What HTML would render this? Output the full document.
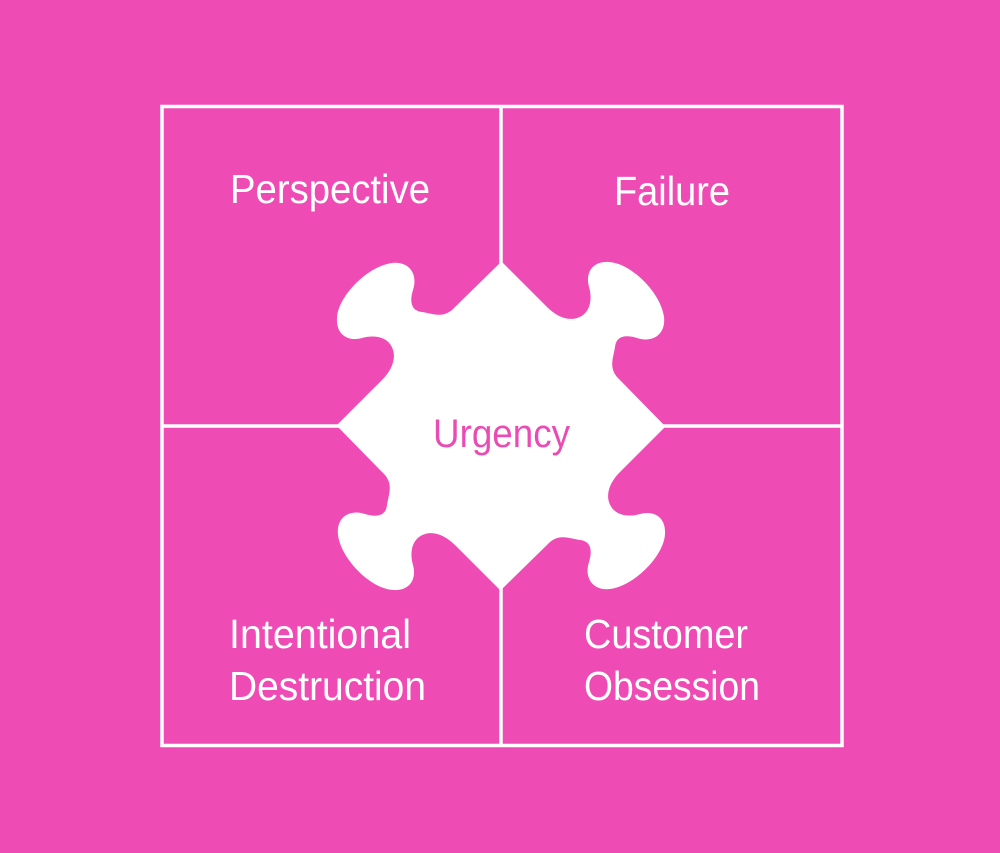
<!DOCTYPE html>
<html><head><meta charset="utf-8"><style>
html,body{margin:0;padding:0;background:#ee4bb4;}
svg{display:block}
text{font-family:"Liberation Sans",sans-serif;}
</style></head><body>
<svg width="1000" height="853" viewBox="0 0 1000 853" xmlns="http://www.w3.org/2000/svg">
<rect width="1000" height="853" fill="#ee4bb4"/>
<g stroke="#fff" stroke-width="3.5" fill="none">
<rect x="162" y="106.5" width="680" height="639"/>
<line x1="501" y1="106" x2="501" y2="746"/>
<line x1="162" y1="426" x2="842" y2="426"/>
</g>
<g fill="#fff">
<path id="k" d="M501,426 L336,426 L382,380 C393,369 398,355 390,344 C384,336 372,335 362,338 C347,342 336,334 337,318 C338,296 368,266 392,263 C410,261 418,275 413,290 C409,303 412,311 422,312 C434,314 442,318 452,310 L501,262 Z"/>
<use href="#k" transform="rotate(90 501 426)"/>
<use href="#k" transform="rotate(180 501 426)"/>
<use href="#k" transform="rotate(270 501 426)"/>
</g>
<g fill="#fff" font-size="41">
<text x="230" y="203" textLength="200" lengthAdjust="spacingAndGlyphs">Perspective</text>
<text x="614" y="205" textLength="116" lengthAdjust="spacingAndGlyphs">Failure</text>
<text x="229" y="648" textLength="182" lengthAdjust="spacingAndGlyphs">Intentional</text>
<text x="229" y="700" textLength="197" lengthAdjust="spacingAndGlyphs">Destruction</text>
<text x="584" y="648" textLength="164" lengthAdjust="spacingAndGlyphs">Customer</text>
<text x="584" y="700" textLength="176" lengthAdjust="spacingAndGlyphs">Obsession</text>
</g>
<text x="433" y="447" font-size="40" fill="#e94db3" textLength="137" lengthAdjust="spacingAndGlyphs">Urgency</text>
</svg>
</body></html>
